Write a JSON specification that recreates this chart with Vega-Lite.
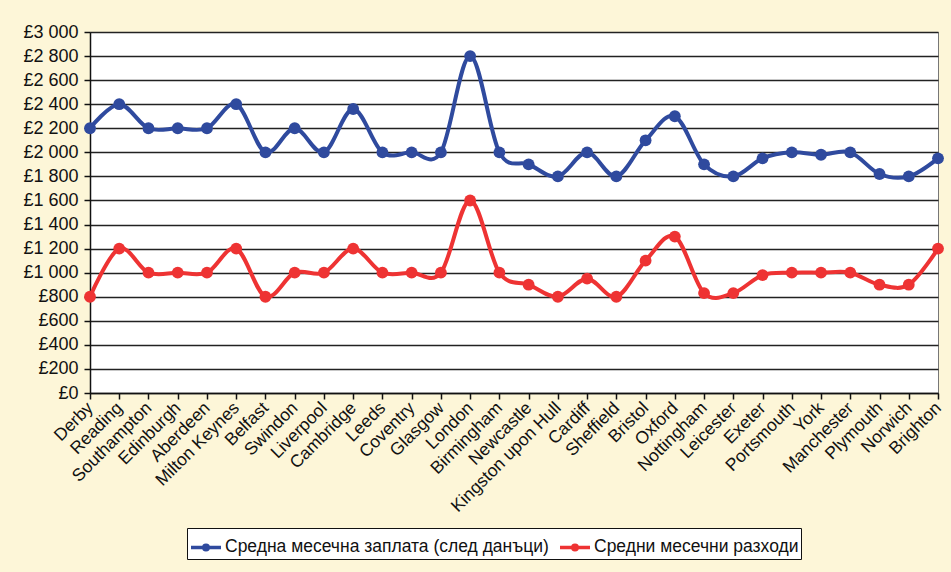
{
  "$schema": "https://vega.github.io/schema/vega-lite/v6.json",
  "width": 848,
  "height": 361,
  "autosize": {"type": "none"},
  "padding": {"left": 90, "top": 32, "right": 13, "bottom": 179},
  "background": "#FDF6D8",
  "config": {
    "font": "Liberation Sans",
    "view": {"fill": "white", "stroke": "#777", "strokeWidth": 1}
  },
  "data": {
    "values": [
      {"city": "Derby", "series": "Средна месечна заплата (след данъци)", "value": 2200},
      {"city": "Reading", "series": "Средна месечна заплата (след данъци)", "value": 2400},
      {"city": "Southampton", "series": "Средна месечна заплата (след данъци)", "value": 2200},
      {"city": "Edinburgh", "series": "Средна месечна заплата (след данъци)", "value": 2200},
      {"city": "Aberdeen", "series": "Средна месечна заплата (след данъци)", "value": 2200},
      {"city": "Milton Keynes", "series": "Средна месечна заплата (след данъци)", "value": 2400},
      {"city": "Belfast", "series": "Средна месечна заплата (след данъци)", "value": 2000},
      {"city": "Swindon", "series": "Средна месечна заплата (след данъци)", "value": 2200},
      {"city": "Liverpool", "series": "Средна месечна заплата (след данъци)", "value": 2000},
      {"city": "Cambridge", "series": "Средна месечна заплата (след данъци)", "value": 2360},
      {"city": "Leeds", "series": "Средна месечна заплата (след данъци)", "value": 2000},
      {"city": "Coventry", "series": "Средна месечна заплата (след данъци)", "value": 2000},
      {"city": "Glasgow", "series": "Средна месечна заплата (след данъци)", "value": 2000},
      {"city": "London", "series": "Средна месечна заплата (след данъци)", "value": 2800},
      {"city": "Birmingham", "series": "Средна месечна заплата (след данъци)", "value": 2000},
      {"city": "Newcastle", "series": "Средна месечна заплата (след данъци)", "value": 1900},
      {"city": "Kingston upon Hull", "series": "Средна месечна заплата (след данъци)", "value": 1800},
      {"city": "Cardiff", "series": "Средна месечна заплата (след данъци)", "value": 2000},
      {"city": "Sheffield", "series": "Средна месечна заплата (след данъци)", "value": 1800},
      {"city": "Bristol", "series": "Средна месечна заплата (след данъци)", "value": 2100},
      {"city": "Oxford", "series": "Средна месечна заплата (след данъци)", "value": 2300},
      {"city": "Nottingham", "series": "Средна месечна заплата (след данъци)", "value": 1900},
      {"city": "Leicester", "series": "Средна месечна заплата (след данъци)", "value": 1800},
      {"city": "Exeter", "series": "Средна месечна заплата (след данъци)", "value": 1950},
      {"city": "Portsmouth", "series": "Средна месечна заплата (след данъци)", "value": 2000},
      {"city": "York", "series": "Средна месечна заплата (след данъци)", "value": 1980},
      {"city": "Manchester", "series": "Средна месечна заплата (след данъци)", "value": 2000},
      {"city": "Plymouth", "series": "Средна месечна заплата (след данъци)", "value": 1820},
      {"city": "Norwich", "series": "Средна месечна заплата (след данъци)", "value": 1800},
      {"city": "Brighton", "series": "Средна месечна заплата (след данъци)", "value": 1950},
      {"city": "Derby", "series": "Средни месечни разходи", "value": 800},
      {"city": "Reading", "series": "Средни месечни разходи", "value": 1200},
      {"city": "Southampton", "series": "Средни месечни разходи", "value": 1000},
      {"city": "Edinburgh", "series": "Средни месечни разходи", "value": 1000},
      {"city": "Aberdeen", "series": "Средни месечни разходи", "value": 1000},
      {"city": "Milton Keynes", "series": "Средни месечни разходи", "value": 1200},
      {"city": "Belfast", "series": "Средни месечни разходи", "value": 800},
      {"city": "Swindon", "series": "Средни месечни разходи", "value": 1000},
      {"city": "Liverpool", "series": "Средни месечни разходи", "value": 1000},
      {"city": "Cambridge", "series": "Средни месечни разходи", "value": 1200},
      {"city": "Leeds", "series": "Средни месечни разходи", "value": 1000},
      {"city": "Coventry", "series": "Средни месечни разходи", "value": 1000},
      {"city": "Glasgow", "series": "Средни месечни разходи", "value": 1000},
      {"city": "London", "series": "Средни месечни разходи", "value": 1600},
      {"city": "Birmingham", "series": "Средни месечни разходи", "value": 1000},
      {"city": "Newcastle", "series": "Средни месечни разходи", "value": 900},
      {"city": "Kingston upon Hull", "series": "Средни месечни разходи", "value": 800},
      {"city": "Cardiff", "series": "Средни месечни разходи", "value": 950},
      {"city": "Sheffield", "series": "Средни месечни разходи", "value": 800},
      {"city": "Bristol", "series": "Средни месечни разходи", "value": 1100},
      {"city": "Oxford", "series": "Средни месечни разходи", "value": 1300},
      {"city": "Nottingham", "series": "Средни месечни разходи", "value": 830},
      {"city": "Leicester", "series": "Средни месечни разходи", "value": 830},
      {"city": "Exeter", "series": "Средни месечни разходи", "value": 980},
      {"city": "Portsmouth", "series": "Средни месечни разходи", "value": 1000},
      {"city": "York", "series": "Средни месечни разходи", "value": 1000},
      {"city": "Manchester", "series": "Средни месечни разходи", "value": 1000},
      {"city": "Plymouth", "series": "Средни месечни разходи", "value": 900},
      {"city": "Norwich", "series": "Средни месечни разходи", "value": 900},
      {"city": "Brighton", "series": "Средни месечни разходи", "value": 1200}
    ]
  },
  "mark": {
    "type": "line",
    "interpolate": "cardinal",
    "strokeWidth": 4,
    "point": {"filled": true, "size": 140, "opacity": 1}
  },
  "encoding": {
    "x": {
      "field": "city",
      "type": "ordinal",
      "sort": null,
      "scale": {"type": "point", "padding": 0},
      "axis": {
        "title": null,
        "labelAngle": -45,
        "labelAlign": "right",
        "labelBaseline": "middle",
        "labelFontSize": 17.5,
        "labelColor": "#111",
        "labelPadding": 6,
        "labelOverlap": false,
        "domainColor": "#111",
        "domainWidth": 1.5,
        "tickColor": "#111",
        "tickSize": 6,
        "tickWidth": 1.5,
        "grid": false
      }
    },
    "y": {
      "field": "value",
      "type": "quantitative",
      "scale": {"domain": [0, 3000], "nice": false},
      "axis": {
        "title": null,
        "values": [0, 200, 400, 600, 800, 1000, 1200, 1400, 1600, 1800, 2000, 2200, 2400, 2600, 2800, 3000],
        "labelExpr": "'£' + replace(format(datum.value, ','), ',', ' ')",
        "labelFontSize": 18,
        "labelColor": "#111",
        "labelPadding": 6,
        "domainColor": "#111",
        "domainWidth": 1.5,
        "tickColor": "#111",
        "tickSize": 6,
        "tickWidth": 1.5,
        "grid": true,
        "gridColor": "#222",
        "gridWidth": 1.5
      }
    },
    "color": {
      "field": "series",
      "type": "nominal",
      "scale": {
        "domain": ["Средна месечна заплата (след данъци)", "Средни месечни разходи"],
        "range": ["#2F4A9E", "#EE3333"]
      },
      "legend": {
        "title": null,
        "orient": "none",
        "legendX": 97,
        "legendY": 496,
        "direction": "horizontal",
        "fillColor": "white",
        "strokeColor": "#111",
        "padding": 2,
        "labelFontSize": 17.5,
        "labelLimit": 0,
        "labelColor": "#111",
        "symbolType": "M-1,0H1M0.15,0A0.15,0.15 0 1 1 -0.15,0A0.15,0.15 0 1 1 0.15,0",
        "symbolStrokeWidth": 3.5,
        "symbolSize": 900,
        "columnPadding": 4,
        "labelOffset": 2
      }
    }
  }
}
